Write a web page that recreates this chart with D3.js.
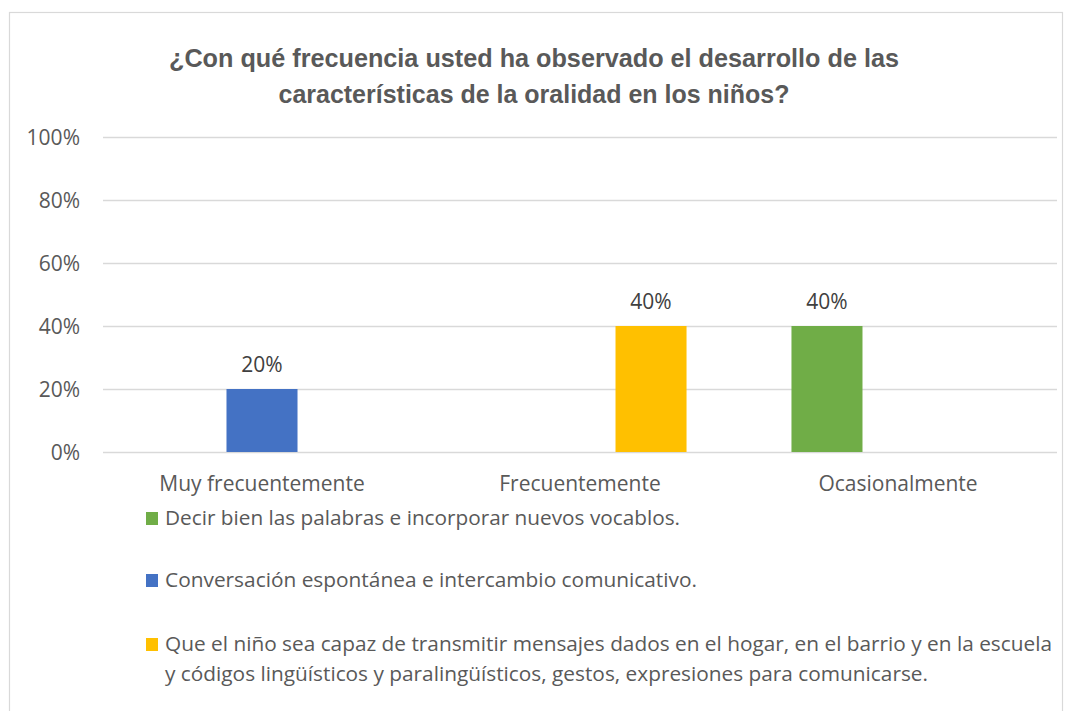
<!DOCTYPE html>
<html><head><meta charset="utf-8">
<script src="https://cdn.jsdelivr.net/npm/d3@7"></script>
<style>body{margin:0;background:#fff}svg{display:block}</style>
</head><body>
<svg id="c" width="1071" height="711"></svg>
<script>
const titleLines = ["¿Con qué frecuencia usted ha observado el desarrollo de las", "características de la oralidad en los niños?"];
const categories = ["Muy frecuentemente", "Frecuentemente", "Ocasionalmente"];
const seriesNames = ["Decir bien las palabras e incorporar nuevos vocablos.", "Conversación espontánea e intercambio comunicativo.", "Que el niño sea capaz de transmitir mensajes dados en el hogar, en el barrio y en la escuela y códigos lingüísticos y paralingüísticos, gestos, expresiones para comunicarse."];
const legendLines = [["Decir bien las palabras e incorporar nuevos vocablos."], ["Conversación espontánea e intercambio comunicativo."], ["Que el niño sea capaz de transmitir mensajes dados en el hogar, en el barrio y en la escuela", "y códigos lingüísticos y paralingüísticos, gestos, expresiones para comunicarse."]];
const seriesColors = ["#70AD47", "#4472C4", "#FFC000"];
const decirValues = [0, 0, 0.40];
const conversacionValues = [0.20, 0, 0];
const transmitirValues = [0, 0.40, 0];
const yTicks = [0, 0.2, 0.4, 0.6, 0.8, 1.0];

const seriesValues = [decirValues, conversacionValues, transmitirValues];
const svg = d3.select("#c");
const font = "'Open Sans', 'Liberation Sans', sans-serif";
const textColor = "#595959";

// chart border
svg.append("rect").attr("x", 9.5).attr("y", 12.5).attr("width", 1053).attr("height", 720)
  .attr("fill", "#fff").attr("stroke", "#d9d9d9").attr("stroke-width", 1.2);

// title
const titleY = [67, 103];
const titleLen = [730, 511];
titleLines.forEach((t, i) => {
  svg.append("text").attr("x", 534).attr("y", titleY[i]).attr("text-anchor", "middle")
    .attr("font-family", "'Liberation Sans', Arial, sans-serif").attr("font-weight", "bold")
    .attr("font-size", 25).attr("fill", textColor)
    .attr("textLength", titleLen[i]).attr("lengthAdjust", "spacingAndGlyphs").text(t);
});

const plotLeft = 103, plotRight = 1057, plotTop = 137, plotBottom = 452;
const x0 = d3.scaleBand().domain(categories).range([plotLeft, plotRight]).padding(0);
const gap = x0.bandwidth() * 0.165;
const x1 = d3.scaleBand().domain(d3.range(seriesNames.length)).range([gap, x0.bandwidth() - gap]).padding(0);
const y = d3.scaleLinear().domain([0, 1]).range([plotBottom, plotTop]);

// gridlines
const yAxis = d3.axisLeft(y).tickValues(yTicks).tickSize(-(plotRight - plotLeft)).tickFormat(d3.format(".0%"));
const gy = svg.append("g").attr("transform", `translate(${plotLeft},0)`).call(yAxis);
gy.select(".domain").remove();
gy.selectAll(".tick line").attr("stroke", "#d9d9d9").attr("stroke-width", 1.5);
gy.selectAll(".tick text").attr("x", -23).attr("dy", "0.36em")
  .attr("font-family", font).attr("font-size", 21).attr("fill", textColor);

// bars
const groups = svg.append("g").selectAll("g").data(categories).join("g")
  .attr("transform", d => `translate(${x0(d)},0)`);
groups.selectAll("rect").data((c, ci) => seriesValues.map((vals, si) => ({si, v: vals[ci]})))
  .join("rect")
  .attr("x", d => x1(d.si)).attr("width", x1.bandwidth())
  .attr("y", d => y(d.v)).attr("height", d => y(0) - y(d.v))
  .attr("fill", d => seriesColors[d.si]);
groups.selectAll("text.lbl").data((c, ci) => seriesValues.map((vals, si) => ({si, v: vals[ci]})).filter(d => d.v > 0))
  .join("text").attr("class", "lbl")
  .attr("x", d => x1(d.si) + x1.bandwidth() / 2).attr("y", d => y(d.v) - 17.5)
  .attr("text-anchor", "middle").attr("font-family", font).attr("font-size", 21).attr("fill", "#404040")
  .text(d => d3.format(".0%")(d.v));

// x axis labels
const xAxis = d3.axisBottom(x0).tickSize(0).tickPadding(0);
const gx = svg.append("g").attr("transform", `translate(0,${plotBottom})`).call(xAxis);
gx.select(".domain").remove();
gx.selectAll(".tick text").attr("y", 38.5).attr("dy", 0)
  .attr("font-family", font).attr("font-size", 21).attr("fill", textColor);

// legend
const legendY = [[525], [587], [651, 681]];
const legendLen = [[515], [532], [887, 763]];
legendLines.forEach((lines, si) => {
  svg.append("rect").attr("x", 146).attr("y", legendY[si][0] - 13).attr("width", 12).attr("height", 13)
    .attr("fill", seriesColors[si]);
  lines.forEach((t, li) => {
    svg.append("text").attr("x", 165).attr("y", legendY[si][li])
      .attr("font-family", font).attr("font-size", 20.5).attr("fill", textColor)
      .attr("textLength", legendLen[si][li]).attr("lengthAdjust", "spacingAndGlyphs").text(t);
  });
});
</script>
</body></html>
